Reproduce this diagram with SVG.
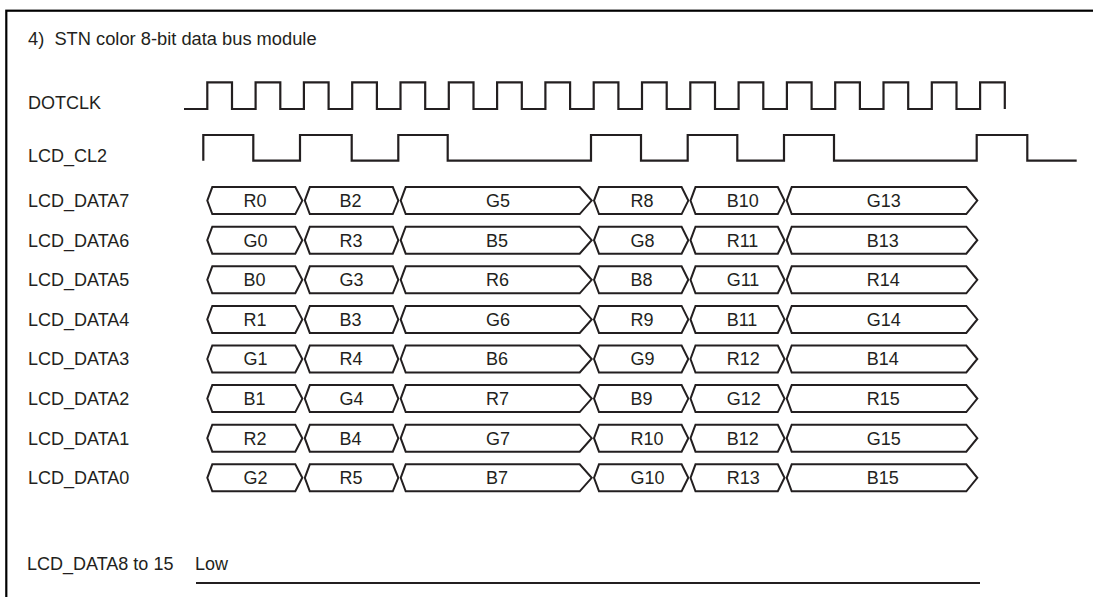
<svg xmlns="http://www.w3.org/2000/svg" xmlns:xlink="http://www.w3.org/1999/xlink" width="1093" height="597" viewBox="0 0 1093 597">
<style>
.t{font-family:"Liberation Sans",Arial,sans-serif;font-size:18px;fill:#231f20}
.w{fill:none;stroke:#231f20;stroke-width:2.2;stroke-linejoin:miter;stroke-linecap:butt}
.b{fill:#fff;stroke:#231f20;stroke-width:2;stroke-linejoin:miter}
</style>
<defs>
<polygon id="s1" class="b" points="207.3,0 212.3,-13.5 295.3,-13.5 302.3,0 295.3,13.5 212.3,13.5"/>
<polygon id="s2" class="b" points="304.8,0 309.8,-13.5 392.8,-13.5 398.3,0 392.8,13.5 309.8,13.5"/>
<polygon id="s3" class="b" points="400.7,0 405.7,-13.5 579.7,-13.5 591.7,0 579.7,13.5 405.7,13.5"/>
<polygon id="s4" class="b" points="594,0 599,-13.5 681.6,-13.5 688.3,0 681.6,13.5 599,13.5"/>
<polygon id="s5" class="b" points="690.5,0 695.5,-13.5 777.8,-13.5 784.5,0 777.8,13.5 695.5,13.5"/>
<polygon id="s6" class="b" points="786.7,0 791.7,-13.5 966.3,-13.5 977.3,0 966.3,13.5 791.7,13.5"/>
<g id="bus">
<use xlink:href="#s1" href="#s1"/><use xlink:href="#s2" href="#s2"/><use xlink:href="#s3" href="#s3"/>
<use xlink:href="#s4" href="#s4"/><use xlink:href="#s5" href="#s5"/><use xlink:href="#s6" href="#s6"/>
</g>
</defs>
<rect x="6.3" y="10.7" width="1100" height="600" fill="#fff" stroke="#000" stroke-width="2.2"/>
<text class="t" x="28" y="45" style="font-size:18.3px">4)&#160; STN color 8-bit data bus module</text>

<g id="dotclk">
<text class="t" x="28" y="109">DOTCLK</text>
<path class="w" d="M184,109 H207.3 V82.3 H232 V109 H255.6 V82.3 H280.3 V109 H303.9 V82.3 H328.6 V109 H352.2 V82.3 H376.9 V109 H400.5 V82.3 H425.2 V109 H448.8 V82.3 H473.5 V109 H497.1 V82.3 H521.8 V109 H545.4 V82.3 H570.1 V109 H593.7 V82.3 H618.4 V109 H642 V82.3 H666.7 V109 H690.3 V82.3 H715 V109 H738.6 V82.3 H763.3 V109 H786.9 V82.3 H811.6 V109 H835.2 V82.3 H859.9 V109 H883.5 V82.3 H908.2 V109 H931.8 V82.3 H956.5 V109 H980.1 V82.3 H1004.8 V109"/>
</g>

<g id="cl2">
<text class="t" x="28" y="162.3">LCD_CL2</text>
<path class="w" d="M203.3,160.7 V135 H253.3 V160.7 H300 V135 H351.7 V160.7 H398.3 V135 H447.7 V160.7 H591 V135 H641 V160.7 H687.7 V135 H737.3 V160.7 H784 V135 H834 V160.7 H976.7 V135 H1027.3 V160.7 H1076.7"/>
</g>

<g id="data7" transform="translate(0,200.6)">
<text class="t" x="28" y="6.4">LCD_DATA7</text>
<use xlink:href="#bus" href="#bus"/>
<text class="t" y="6.4"><tspan x="243.5">R0</tspan><tspan x="339.5">B2</tspan><tspan x="486">G5</tspan><tspan x="630.5">R8</tspan><tspan x="726.7">B10</tspan><tspan x="866.7">G13</tspan></text>
</g>
<g id="data6" transform="translate(0,240.2)">
<text class="t" x="28" y="6.4">LCD_DATA6</text>
<use xlink:href="#bus" href="#bus"/>
<text class="t" y="6.4"><tspan x="243.5">G0</tspan><tspan x="339.5">R3</tspan><tspan x="486">B5</tspan><tspan x="630.5">G8</tspan><tspan x="726.7">R11</tspan><tspan x="866.7">B13</tspan></text>
</g>
<g id="data5" transform="translate(0,279.8)">
<text class="t" x="28" y="6.4">LCD_DATA5</text>
<use xlink:href="#bus" href="#bus"/>
<text class="t" y="6.4"><tspan x="243.5">B0</tspan><tspan x="339.5">G3</tspan><tspan x="486">R6</tspan><tspan x="630.5">B8</tspan><tspan x="726.7">G11</tspan><tspan x="866.7">R14</tspan></text>
</g>
<g id="data4" transform="translate(0,319.4)">
<text class="t" x="28" y="6.4">LCD_DATA4</text>
<use xlink:href="#bus" href="#bus"/>
<text class="t" y="6.4"><tspan x="243.5">R1</tspan><tspan x="339.5">B3</tspan><tspan x="486">G6</tspan><tspan x="630.5">R9</tspan><tspan x="726.7">B11</tspan><tspan x="866.7">G14</tspan></text>
</g>
<g id="data3" transform="translate(0,359)">
<text class="t" x="28" y="6.4">LCD_DATA3</text>
<use xlink:href="#bus" href="#bus"/>
<text class="t" y="6.4"><tspan x="243.5">G1</tspan><tspan x="339.5">R4</tspan><tspan x="486">B6</tspan><tspan x="630.5">G9</tspan><tspan x="726.7">R12</tspan><tspan x="866.7">B14</tspan></text>
</g>
<g id="data2" transform="translate(0,398.6)">
<text class="t" x="28" y="6.4">LCD_DATA2</text>
<use xlink:href="#bus" href="#bus"/>
<text class="t" y="6.4"><tspan x="243.5">B1</tspan><tspan x="339.5">G4</tspan><tspan x="486">R7</tspan><tspan x="630.5">B9</tspan><tspan x="726.7">G12</tspan><tspan x="866.7">R15</tspan></text>
</g>
<g id="data1" transform="translate(0,438.2)">
<text class="t" x="28" y="6.4">LCD_DATA1</text>
<use xlink:href="#bus" href="#bus"/>
<text class="t" y="6.4"><tspan x="243.5">R2</tspan><tspan x="339.5">B4</tspan><tspan x="486">G7</tspan><tspan x="630.5">R10</tspan><tspan x="726.7">B12</tspan><tspan x="866.7">G15</tspan></text>
</g>
<g id="data0" transform="translate(0,477.8)">
<text class="t" x="28" y="6.4">LCD_DATA0</text>
<use xlink:href="#bus" href="#bus"/>
<text class="t" y="6.4"><tspan x="243.5">G2</tspan><tspan x="339.5">R5</tspan><tspan x="486">B7</tspan><tspan x="630.5">G10</tspan><tspan x="726.7">R13</tspan><tspan x="866.7">B15</tspan></text>
</g>

<g id="data8to15">
<text class="t" x="27" y="570">LCD_DATA8 to 15</text>
<text class="t" x="195" y="570">Low</text>
<line class="w" x1="196" y1="583" x2="980" y2="583" stroke-width="2.5"/>
</g>
</svg>
